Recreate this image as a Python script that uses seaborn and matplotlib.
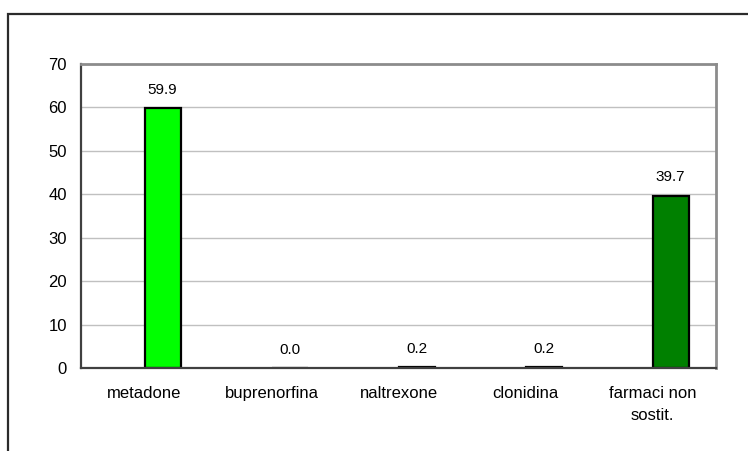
import matplotlib
matplotlib.use("Agg")
import matplotlib.pyplot as plt
from matplotlib.patches import Rectangle
import pandas as pd
import seaborn as sns

# Trattamenti farmacologici (%)
categorie = ["metadone", "buprenorfina", "naltrexone", "clonidina", "farmaci non\nsostit."]
percentuali = [59.9, 0.0, 0.2, 0.2, 39.7]
colori_barre = ["#00ff00", "#00ff00", "#00ff00", "#00ff00", "#008000"]
tick_y = [0, 10, 20, 30, 40, 50, 60, 70]

sns.set_theme(style="white")
plt.rcParams["font.family"] = ["Liberation Sans", "DejaVu Sans"]
plt.rcParams["text.color"] = "black"
plt.rcParams["xtick.color"] = "black"
plt.rcParams["ytick.color"] = "black"

df = pd.DataFrame({
    "categoria": categorie,
    "percentuale": percentuali,
    "serie": ["valore"] * len(categorie),
})

fig = plt.figure(figsize=(7.48, 4.51), dpi=100)
fig.patch.set_facecolor("white")

# outer chart frame (left and top edges visible)
fig.patches.append(Rectangle((8 / 748, -0.2), 1.2, (451 - 14) / 451 + 0.2,
                             transform=fig.transFigure, fill=False,
                             edgecolor="#2b2b2b", linewidth=1.6))

ax = fig.add_axes([81 / 748, (451 - 368) / 451, (716 - 81) / 748, (368 - 64) / 451])

sns.barplot(data=df, x="categoria", y="percentuale", hue="serie",
            hue_order=["vuota", "valore"], order=categorie,
            palette={"vuota": "#ffffff", "valore": "#00ff00"},
            dodge=True, width=0.57, edgecolor="black", linewidth=1.6,
            legend=False, ax=ax)

cont = ax.containers[-1]
for patch, col in zip(cont, colori_barre):
    patch.set_facecolor(col)
ax.bar_label(cont, fmt="{:.1f}", padding=8, fontsize=11, color="black")

ax.set_xlim(-0.5, len(categorie) - 0.5)
ax.set_ylim(tick_y[0], tick_y[-1])
ax.set_yticks(tick_y)
ax.set_xticks(range(len(categorie)))
ax.set_xticklabels(categorie, fontsize=12, linespacing=1.55)
ax.set_xticks([i - 0.5 for i in range(len(categorie) + 1)], minor=True)
ax.tick_params(axis="x", which="major", length=0, pad=13, labelcolor="black")
ax.tick_params(axis="x", which="minor", length=6, width=1.2, color="#404040", direction="out")
ax.tick_params(axis="y", length=5, width=1.2, color="#404040", direction="out", pad=5,
               labelsize=12, labelcolor="black")
ax.set_xlabel("")
ax.set_ylabel("")

ax.yaxis.grid(True, color="#c0c0c0", linewidth=1)
ax.set_axisbelow(True)
for side in ["left", "bottom"]:
    ax.spines[side].set_color("#404040")
    ax.spines[side].set_linewidth(1.6)
for side in ["top", "right"]:
    ax.spines[side].set_color("#8c8c8c")
    ax.spines[side].set_linewidth(2)
    ax.spines[side].set_visible(True)

fig.savefig("out.png", dpi=100, facecolor="white")
